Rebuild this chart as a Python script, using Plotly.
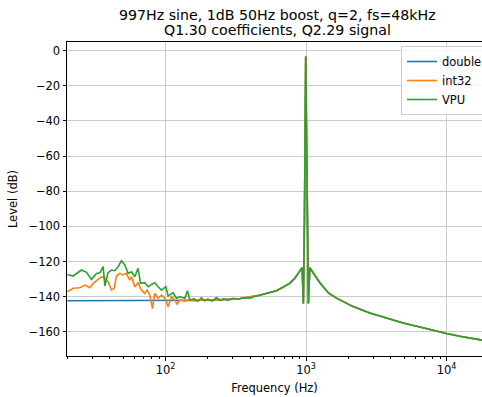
import math
import plotly.graph_objects as go

# ---- data ----
# shared response (all three implementations coincide here)
common_freq = [175, 243, 338, 469, 617, 766, 832, 879, 938, 958, 975, 995, 1040, 1064,
               1254, 1450, 1650, 1889, 2164, 2846, 3741, 4911, 6457, 8489, 10000,
               12434, 15467, 17836, 20000]
common_level = [-142.0, -141.8, -141.0, -139.1, -136.6, -132.4, -129.5, -126.7, -123.5, -143.8,
                -95.0, -3.3, -143.8, -123.5,
                -132.0, -138.0, -140.8, -143.2, -145.6, -149.3, -152.3, -154.9, -157.2, -159.7,
                -160.9, -162.5, -163.8, -164.7, -165.3]

# low-frequency part of each series
double_freq = [20, 60, 100, 150]
double_level = [-142.3, -142.3, -142.3, -142.2]

int32_freq = [20.0, 22.0, 24.5, 26.7, 28.9, 30.6, 33.1, 35.0, 37.0, 39.0, 41.3, 43.1, 44.8,
              47.3, 49.8, 52.5, 55.7, 57.3, 60.5, 63.8, 67.4, 71.2, 73.9, 77.3, 80.8, 83.9,
              88.6, 93.7, 98.9, 104.4, 110.4, 116.5, 121.0, 126.4, 137.0, 149.0, 160.0]
int32_level = [-137.2, -135.2, -134.9, -133.4, -134.9, -132.4, -130.1, -128.6, -129.5, -131.5,
               -136.2, -135.2, -128.2, -126.7, -127.6, -126.7, -130.5, -128.6, -134.3, -132.0,
               -136.2, -138.1, -136.2, -139.1, -146.7, -138.1, -140.9, -139.1, -140.9, -145.7,
               -140.0, -141.9, -144.2, -141.9, -142.5, -142.0, -142.4]

vpu_freq = [20.0, 22.0, 25.2, 27.4, 29.7, 32.3, 34.1, 36.0, 37.0, 39.0, 41.3, 43.6, 46.0,
            48.6, 51.3, 54.2, 57.3, 60.5, 63.8, 66.4, 71.2, 75.2, 79.5, 83.9, 88.6, 93.7,
            100.5, 104.4, 113.2, 119.8, 126.4, 137.2, 143.4, 148.9, 160, 170, 180, 190,
            200, 215, 230, 245, 260, 280, 300, 330, 360, 400, 430]
vpu_level = [-127.3, -128.2, -124.8, -126.1, -130.1, -126.7, -126.3, -122.9, -133.9, -126.3,
             -124.8, -125.2, -122.9, -119.5, -121.9, -126.7, -125.8, -128.6, -123.8, -132.4,
             -132.0, -134.3, -133.0, -132.0, -134.3, -136.2, -134.3, -139.6, -137.7, -140.9,
             -140.0, -140.9, -136.6, -141.9, -141.2, -142.6, -140.6, -142.3, -141.4, -142.5,
             -140.5, -142.0, -141.2, -142.1, -140.9, -141.4, -140.6, -140.8, -139.8]

series_names = ["double", "int32", "VPU"]
series_colors = ["#1f77b4", "#ff7f0e", "#2ca02c"]

x_major = [100, 1000, 10000]
x_major_text = ["10<sup>2</sup>", "10<sup>3</sup>", "10<sup>4</sup>"]
y_ticks = [0, -20, -40, -60, -80, -100, -120, -140, -160]
y_tick_text = ["0", "\u221220", "\u221240", "\u221260", "\u221280", "\u2212100",
               "\u2212120", "\u2212140", "\u2212160"]


def join(lf, ll):
    start = lf[-1]
    f = list(lf) + [v for v in common_freq if v > start]
    l = list(ll) + [common_level[i] for i, v in enumerate(common_freq) if v > start]
    return f, l


low = [(double_freq, double_level), (int32_freq, int32_level), (vpu_freq, vpu_level)]

fig = go.Figure()
for (lf, ll), name, col in zip(low, series_names, series_colors):
    f, l = join(lf, ll)
    fig.add_trace(go.Scatter(x=f, y=l, mode="lines", name=name,
                             line=dict(color=col, width=1.6)))

minor_vals = [m * 10 ** e for e in (1, 2, 3, 4) for m in range(2, 10)]

W, H = 482, 397
L, R, T, B = 67, 0, 42, 41
PW, PH = W - L - R, H - T - B
x_left = math.log10(19.9)
x_right = x_left + PW / 140.5
FS = 11.5
TS = 14.2

fig.update_layout(
    width=W, height=H,
    margin=dict(l=L, r=R, t=T, b=B, pad=0, autoexpand=False),
    paper_bgcolor="white", plot_bgcolor="white",
    font=dict(family="DejaVu Sans", size=FS, color="black"),
    showlegend=True,
    legend=dict(x=(401 - L) / PW, xanchor="left", y=(H - B - 46) / PH, yanchor="top",
                bgcolor="rgba(255,255,255,0.8)", bordercolor="#cccccc", borderwidth=1,
                font=dict(size=FS), itemwidth=30, tracegroupgap=0),
    annotations=[
        dict(text="997Hz sine, 1dB 50Hz boost, q=2, fs=48kHz", xref="paper", yref="paper",
             x=(277.5 - L) / PW, y=1 + (T - 15.5) / PH, xanchor="center",
             yanchor="middle", showarrow=False, font=dict(size=TS)),
        dict(text="Q1.30 coefficients, Q2.29 signal", xref="paper", yref="paper",
             x=(277.5 - L) / PW, y=1 + (T - 30) / PH, xanchor="center",
             yanchor="middle", showarrow=False, font=dict(size=TS)),
    ],
)

fig.update_xaxes(
    type="log", range=[x_left, x_right], automargin=False,
    tickmode="array", tickvals=x_major, ticktext=x_major_text,
    ticks="outside", ticklen=3.5, tickwidth=1, tickcolor="black",
    showgrid=True, gridcolor="#cbcbcb", gridwidth=1,
    showline=True, linecolor="black", linewidth=1, mirror=True,
    zeroline=False,
    minor=dict(tickmode="array", tickvals=minor_vals, ticks="outside", ticklen=2,
               tickcolor="black", showgrid=False),
    title=dict(text="Frequency (Hz)", font=dict(size=FS), standoff=7),
)
fig.update_yaxes(
    range=[-173.7, 4.9], automargin=False,
    tickmode="array", tickvals=y_ticks, ticktext=y_tick_text,
    ticks="outside", ticklen=3.5, tickwidth=1, tickcolor="black",
    showgrid=True, gridcolor="#cbcbcb", gridwidth=1,
    showline=True, linecolor="black", linewidth=1, mirror=False,
    zeroline=False,
    title=dict(text="Level (dB)", font=dict(size=FS), standoff=8),
)

fig.write_html(
    "out.html",
    config={"displayModeBar": False},
    post_script="document.body.style.margin='0';document.body.style.overflow='hidden';",
)
